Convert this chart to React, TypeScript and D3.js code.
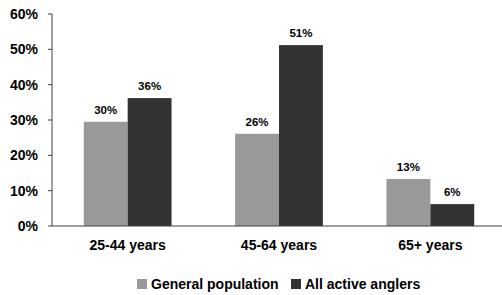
import React from 'react';
import * as d3 from 'd3';

// данные
const categories = ['25-44 years', '45-64 years', '65+ years'];
const seriesNames = ['General population', 'All active anglers'];
const generalPopulation = [29.5, 26.1, 13.3];
const activeAnglers = [36.2, 51.2, 6.2];
const generalLabels = ['30%', '26%', '13%'];
const anglerLabels = ['36%', '51%', '6%'];
const yTicks = [0, 10, 20, 30, 40, 50, 60];

const colors = ['#999999', '#333333'];

const W = 502;
const H = 295;
const margin = { top: 14, right: -4, bottom: 69, left: 52 };

const App = () => {
  const x = d3.scaleBand<string>()
    .domain(categories)
    .range([margin.left, W - margin.right])
    .paddingInner(0.42)
    .paddingOuter(0.21);

  const x1 = d3.scaleBand<string>()
    .domain(seriesNames)
    .range([0, x.bandwidth()]);

  const y = d3.scaleLinear()
    .domain([0, 60])
    .range([H - margin.bottom, margin.top]);

  const series = [
    { name: seriesNames[0], values: generalPopulation, labels: generalLabels },
    { name: seriesNames[1], values: activeAnglers, labels: anglerLabels },
  ];

  const font = '"Liberation Sans", Arial, sans-serif';

  // легенда
  const legendItems = [
    { name: seriesNames[0], x: 137, textX: 151 },
    { name: seriesNames[1], x: 291, textX: 305 },
  ];

  return (
    <svg width={W} height={H} style={{ position: 'absolute', left: 0, top: 0 }} fontFamily={font}>
      <rect width={W} height={H} fill="#ffffff" />

      {/* бары */}
      {series.map((s, si) => (
        <g key={s.name}>
          {categories.map((c, i) => (
            <g key={c}>
              <rect
                x={(x(c) ?? 0) + (x1(s.name) ?? 0)}
                y={y(s.values[i])}
                width={x1.bandwidth()}
                height={y(0) - y(s.values[i])}
                fill={colors[si]}
              />
              <text
                x={(x(c) ?? 0) + (x1(s.name) ?? 0) + x1.bandwidth() / 2}
                y={y(s.values[i]) - 8}
                textAnchor="middle"
                fontSize={11.5}
                fontWeight="bold"
                fill="#000"
              >
                {s.labels[i]}
              </text>
            </g>
          ))}
        </g>
      ))}

      {/* ось Y */}
      <line x1={margin.left} x2={margin.left} y1={y(60)} y2={y(0)} stroke="#404040" strokeWidth={1} />
      {yTicks.map(t => (
        <g key={t}>
          <line x1={margin.left - 4} x2={margin.left} y1={y(t)} y2={y(t)} stroke="#404040" />
          <text
            x={38}
            y={y(t)}
            dy="0.36em"
            textAnchor="end"
            fontSize={14}
            fontWeight="bold"
            fill="#000"
          >
            {t}%
          </text>
        </g>
      ))}

      {/* ось X */}
      <line x1={margin.left} x2={W} y1={y(0)} y2={y(0)} stroke="#404040" strokeWidth={1} />
      {categories.map(c => (
        <text
          key={c}
          x={(x(c) ?? 0) + x.bandwidth() / 2}
          y={250}
          textAnchor="middle"
          fontSize={14}
          fontWeight="bold"
          fill="#000"
        >
          {c}
        </text>
      ))}

      {legendItems.map((l, i) => (
        <g key={l.name}>
          <rect x={l.x} y={279} width={10} height={10} fill={colors[i]} />
          <text x={l.textX} y={289} fontSize={14} fontWeight="bold" fill="#000">
            {l.name}
          </text>
        </g>
      ))}
    </svg>
  );
};

export default App;
